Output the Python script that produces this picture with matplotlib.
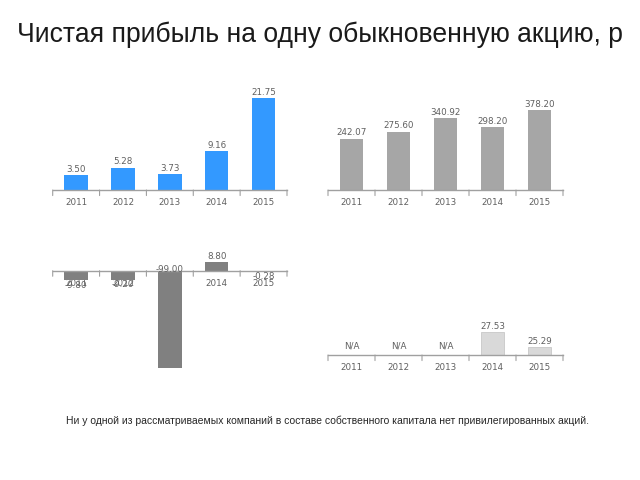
import matplotlib
matplotlib.use("Agg")
import matplotlib.pyplot as plt

years = ["2011", "2012", "2013", "2014", "2015"]
eps_blue = [3.50, 5.28, 3.73, 9.16, 21.75]
eps_gray = [242.07, 275.60, 340.92, 298.20, 378.20]
eps_dark = [-9.80, -9.20, -99.00, 8.80, -0.28]
eps_light = [None, None, None, 27.53, 25.29]

title = "Чистая прибыль на одну обыкновенную акцию, р"
footnote = "Ни у одной из рассматриваемых компаний в составе собственного капитала нет привилегированных акций."

W, H = 640, 480
fig = plt.figure(figsize=(6.4, 4.8), dpi=100)

LBL = dict(fontsize=6.3, color="#606060", family="DejaVu Sans")
AX_COLOR = "#a0a0a0"


def make_ax(x0, x1, ytop, ybot):
    return fig.add_axes([x0 / W, 1 - ybot / H, (x1 - x0) / W, (ybot - ytop) / H])


def style(ax, base, ylim):
    ax.set_xlim(-0.5, 4.5)
    ax.set_ylim(*ylim)
    for s in ax.spines.values():
        s.set_visible(False)
    ax.set_yticks([])
    ax.set_xticks([])
    ax.axhline(base, color=AX_COLOR, lw=1.0, zorder=3, clip_on=False)
    for b in [i - 0.5 for i in range(6)]:
        ax.annotate("", xy=(b, base), xytext=(0, -4), textcoords="offset points",
                    xycoords="data", annotation_clip=False,
                    arrowprops=dict(arrowstyle="-", color=AX_COLOR, lw=0.8,
                                    shrinkA=0, shrinkB=0))
    for i, y in enumerate(years):
        ax.annotate(y, (i, base), xytext=(0, -6), textcoords="offset points",
                    ha="center", va="top", zorder=1, annotation_clip=False, **LBL)


# top-left
ax1 = make_ax(52.7, 287, 75, 190)
style(ax1, 0, (0, 115 / 4.23))
ax1.bar(range(5), eps_blue, width=0.5, color="#3399ff", zorder=2)
for i, v in enumerate(eps_blue):
    ax1.annotate(f"{v:.2f}", (i, v), xytext=(0, 1), textcoords="offset points",
                 ha="center", va="bottom", **LBL)

# top-right
ax2 = make_ax(328, 563, 75, 190)
style(ax2, 0, (0, 115 / 0.2115))
ax2.bar(range(5), eps_gray, width=0.5, color="#a6a6a6", zorder=2)
for i, v in enumerate(eps_gray):
    ax2.annotate(f"{v:.2f}", (i, v), xytext=(0, 1), textcoords="offset points",
                 ha="center", va="bottom", **LBL)

# bottom-left
sc = 0.98
ax3 = make_ax(52.7, 287, 250, 375)
style(ax3, 0, (-104.3 / sc, 20.7 / sc))
ax3.bar(range(5), eps_dark, width=0.5, color="#808080", zorder=2)
for i, v in enumerate(eps_dark):
    if v >= 0:
        ax3.annotate(f"{v:.2f}", (i, v), xytext=(0, 0.5), textcoords="offset points",
                     ha="center", va="bottom", zorder=4, **LBL)
    elif v < -50:
        ax3.annotate(f"{v:.2f}", (i, 0), xytext=(0, 1), textcoords="offset points",
                     ha="center", va="center", zorder=4, **LBL)
    else:
        ax3.annotate(f"{v:.2f}", (i, v), xytext=(0, -0.5), textcoords="offset points",
                     ha="center", va="top", zorder=4, **LBL)

# bottom-right
base4 = 24.1
ax4 = make_ax(328, 563, 300, 355)
style(ax4, base4, (base4, base4 + 55 / 6.7))
for i, v in enumerate(eps_light):
    if v is None:
        ax4.annotate("N/A", (i, base4), xytext=(0, 3), textcoords="offset points",
                     ha="center", va="bottom", **LBL)
    else:
        ax4.bar(i, v - base4, bottom=base4, width=0.5, color="#d9d9d9",
                edgecolor="#c8c8c8", lw=0.6, zorder=2)
        ax4.annotate(f"{v:.2f}", (i, v), xytext=(0, 1), textcoords="offset points",
                     ha="center", va="bottom", **LBL)

fig.text(320 / W, 1 - 35 / H, title, ha="center", va="center", fontsize=19.1,
         family="Liberation Sans", color="#1a1a1a")
fig.text(327 / W, 1 - 421 / H, footnote, ha="center", va="center", fontsize=7.5,
         family="Liberation Sans", color="#262626")

fig.savefig("out.png", dpi=100, facecolor="white")
